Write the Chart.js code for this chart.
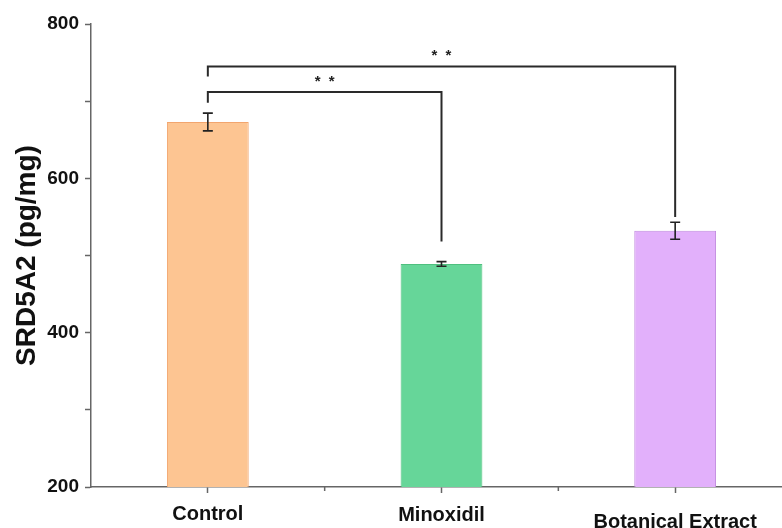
<!DOCTYPE html>
<html>
<head>
<meta charset="utf-8">
<title>SRD5A2</title>
<script src="https://cdn.jsdelivr.net/npm/chart.js@4"></script>
<style>
    html, body { margin: 0; padding: 0; background: #fff; overflow: hidden; }
    #wrap { width: 792px; height: 528px; }
</style>
</head>
<body>
<div id="wrap"><canvas id="srdChart" width="792" height="528"></canvas></div>
<script>
// ---- DATA ----
const categories = ['Control', 'Minoxidil', 'Botanical Extract'];
const means = [673, 489, 532];
const errors = [11.5, 3, 11];
const barColors = ['#FDC592', '#66D699', '#E2B0FB'];
const barBorders = ['#F2A56E', '#4FC07F', '#C08ADF'];

// brackets: [from, to], level of the bar, where each leg ends, label
const bracketPairs = [[0, 1], [0, 2]];
const bracketLevels = [712, 745];
const bracketLeftEnds = [698, 732];
const bracketRightEnds = [518, 550];
const bracketLabels = ['**', '**'];

// label stagger (line height factor per category)
const labelLineHeights = [1.3, 1.45, 2.1];

const FONT = '"Liberation Sans", Arial, sans-serif';

// error bars + minor ticks + brackets
const extrasPlugin = {
    id: 'extras',
    afterDatasetsDraw(chart) {
        const ctx = chart.ctx;
        const x = chart.scales.x;
        const y = chart.scales.y;

        ctx.save();

        // error bars
        ctx.strokeStyle = '#222';
        ctx.lineWidth = 1.6;
        means.forEach(function (m, i) {
            const px = x.getPixelForValue(i);
            const top = y.getPixelForValue(m + errors[i]);
            const bot = y.getPixelForValue(m - errors[i]);
            ctx.beginPath();
            ctx.moveTo(px, top); ctx.lineTo(px, bot);
            ctx.moveTo(px - 5, top); ctx.lineTo(px + 5, top);
            ctx.moveTo(px - 5, bot); ctx.lineTo(px + 5, bot);
            ctx.stroke();
        });

        // minor x ticks between categories
        ctx.strokeStyle = '#666';
        ctx.lineWidth = 1.5;
        for (let i = 0; i < categories.length - 1; i++) {
            const px = x.getPixelForValue(i + 0.5);
            ctx.beginPath();
            ctx.moveTo(px, x.top); ctx.lineTo(px, x.top + 4);
            ctx.stroke();
        }

        // significance brackets
        ctx.strokeStyle = '#2a2a2a';
        ctx.lineWidth = 2;
        ctx.fillStyle = '#222';
        ctx.font = 'bold 15px ' + FONT;
        ctx.textAlign = 'center';
        ctx.textBaseline = 'alphabetic';
        bracketPairs.forEach(function (p, k) {
            const x1 = x.getPixelForValue(p[0]);
            const x2 = x.getPixelForValue(p[1]);
            const yl = y.getPixelForValue(bracketLevels[k]);
            ctx.beginPath();
            ctx.moveTo(x1, y.getPixelForValue(bracketLeftEnds[k]));
            ctx.lineTo(x1, yl);
            ctx.lineTo(x2, yl);
            ctx.lineTo(x2, y.getPixelForValue(bracketRightEnds[k]));
            ctx.stroke();

            const mid = (x1 + x2) / 2;
            const stars = bracketLabels[k].split('');
            stars.forEach(function (s, j) {
                const off = (j - (stars.length - 1) / 2) * 14;
                ctx.fillText(s, mid + off, yl - 6);
            });
        });

        ctx.restore();
    }
};

function loadChart() {
    const el = document.getElementById('srdChart');
    if (!el) return;

    new Chart(el, {
        type: 'bar',
        data: {
            labels: categories,
            datasets: [{
                data: means,
                backgroundColor: barColors,
                borderColor: barBorders,
                borderWidth: 1,
                barPercentage: 0.35,
                categoryPercentage: 1.0
            }]
        },
        options: {
            responsive: false,
            animation: false,
            devicePixelRatio: 1,
            layout: { padding: { top: 24, left: 0, right: 0, bottom: 0 } },
            plugins: {
                legend: { display: false },
                tooltip: { enabled: false }
            },
            scales: {
                x: {
                    offset: true,
                    grid: {
                        offset: false,
                        drawOnChartArea: false,
                        tickLength: 6,
                        tickColor: '#666',
                        tickWidth: 1.5
                    },
                    border: { color: '#666', width: 1.5 },
                    ticks: {
                        color: '#111',
                        padding: 8,
                        font: function (c) {
                            return {
                                family: FONT,
                                size: 20,
                                weight: 'bold',
                                lineHeight: labelLineHeights[c.index] || 1.2
                            };
                        }
                    },
                    afterFit: function (s) { s.height = 41; }
                },
                y: {
                    min: 200,
                    max: 800,
                    grid: {
                        drawOnChartArea: false,
                        tickLength: 6,
                        tickColor: '#666',
                        tickWidth: 1.5
                    },
                    border: { color: '#666', width: 1.5 },
                    ticks: {
                        stepSize: 100,
                        padding: 6,
                        color: '#111',
                        font: { family: FONT, size: 19, weight: 'bold' },
                        callback: function (v) { return v % 200 === 0 ? v : ''; }
                    },
                    title: {
                        display: true,
                        text: 'SRD5A2 (pg/mg)',
                        color: '#111',
                        font: { family: FONT, size: 28, weight: 'bold' },
                        padding: { top: 10, bottom: 0 }
                    },
                    afterFit: function (s) { s.width = 91; }
                }
            }
        },
        plugins: [extrasPlugin]
    });
}

document.addEventListener('DOMContentLoaded', function () {
    loadChart();
});
</script>
</body>
</html>
